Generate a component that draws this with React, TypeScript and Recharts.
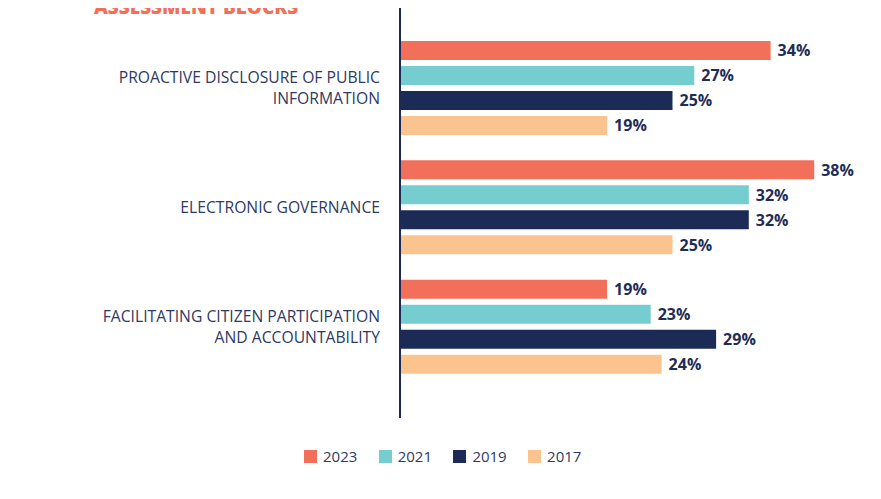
import React from "react";
import { BarChart, Bar, XAxis, YAxis, LabelList } from "recharts";

const categories = [
  "PROACTIVE DISCLOSURE OF PUBLIC\nINFORMATION",
  "ELECTRONIC GOVERNANCE",
  "FACILITATING CITIZEN PARTICIPATION\nAND ACCOUNTABILITY",
];
const values2023 = [34, 38, 19];
const values2021 = [27, 32, 23];
const values2019 = [25, 32, 29];
const values2017 = [19, 25, 24];
const seriesNames = ["2023", "2021", "2019", "2017"];
const seriesColors = ["#f26f5a", "#76cdcf", "#1c2b56", "#fbc48f"];
const title = "ASSESSMENT BLOCKS";

const seriesValues = [values2023, values2021, values2019, values2017];
const data = categories.map((c, i) => {
  const row: any = { name: c };
  seriesNames.forEach((s, k) => {
    row[s] = seriesValues[k][i];
  });
  return row;
});

const TEXT = "#2e3a5f";
const FONT = "'Open Sans', 'Noto Sans', sans-serif";

const CategoryTick = (props: any) => {
  const { x, y, payload } = props;
  const lines = String(payload.value).split("\n");
  const lh = 21;
  const start = y - ((lines.length - 1) * lh) / 2;
  const tx = x - 12;
  return (
    <text
      x={tx}
      y={start}
      textAnchor="end"
      fill={TEXT}
      fontFamily={FONT}
      fontSize={15.7}
      dominantBaseline="central"
    >
      {lines.map((l, i) => (
        <tspan key={i} x={tx} y={start + i * lh} dominantBaseline="central">
          {l}
        </tspan>
      ))}
    </text>
  );
};

export default function App() {
  return (
    <div
      style={{
        position: "relative",
        width: 881,
        height: 499,
        margin: -8,
        overflow: "hidden",
        background: "#fff",
      }}
    >
      <div
        style={{
          position: "absolute",
          left: 3,
          top: 0,
          width: 1,
          height: 499,
          background: "#e6e8e6",
        }}
      />
      <div
        style={{
          position: "absolute",
          left: 0,
          top: 497,
          width: 881,
          height: 1,
          background: "#eeeeee",
        }}
      />
      <div
        style={{
          position: "absolute",
          left: 94,
          top: -3,
          fontFamily: FONT,
          fontWeight: 800,
          fontSize: 19,
          lineHeight: "20px",
          color: "#f26f5a",
          whiteSpace: "nowrap",
        }}
      >
        {title}
      </div>
      <div style={{ position: "absolute", left: 0, top: 0 }}>
        <BarChart
          layout="vertical"
          width={881}
          height={499}
          data={data}
          margin={{ top: 4, right: 45, bottom: 81, left: 0 }}
          barSize={19}
          barGap={6}
          barCategoryGap={12}
        >
          <XAxis type="number" domain={[0, 40]} hide />
          <YAxis
            type="category"
            dataKey="name"
            width={400}
            axisLine={{ stroke: "#1c2b56", strokeWidth: 2 }}
            tickLine={false}
            padding={{ top: 24, bottom: 32 }}
            tick={<CategoryTick />}
            interval={0}
          />
          {seriesNames.map((s, k) => (
            <Bar key={s} dataKey={s} fill={seriesColors[k]} isAnimationActive={false}>
              <LabelList
                dataKey={s}
                position="right"
                offset={7}
                formatter={(v: any) => `${v}%`}
                fill="#1f2d55"
                fontFamily={FONT}
                fontWeight={700}
                fontSize={16}
              />
            </Bar>
          ))}
        </BarChart>
      </div>
      {seriesNames.map((s, k) => (
        <div
          key={s}
          style={{
            position: "absolute",
            left: 304 + k * 74.7,
            top: 446,
            display: "flex",
            alignItems: "center",
            fontFamily: FONT,
            fontSize: 15,
            color: TEXT,
            height: 20,
          }}
        >
          <span
            style={{
              display: "inline-block",
              width: 13,
              height: 13,
              background: seriesColors[k],
              marginRight: 6,
            }}
          />
          <span>{s}</span>
        </div>
      ))}
    </div>
  );
}
